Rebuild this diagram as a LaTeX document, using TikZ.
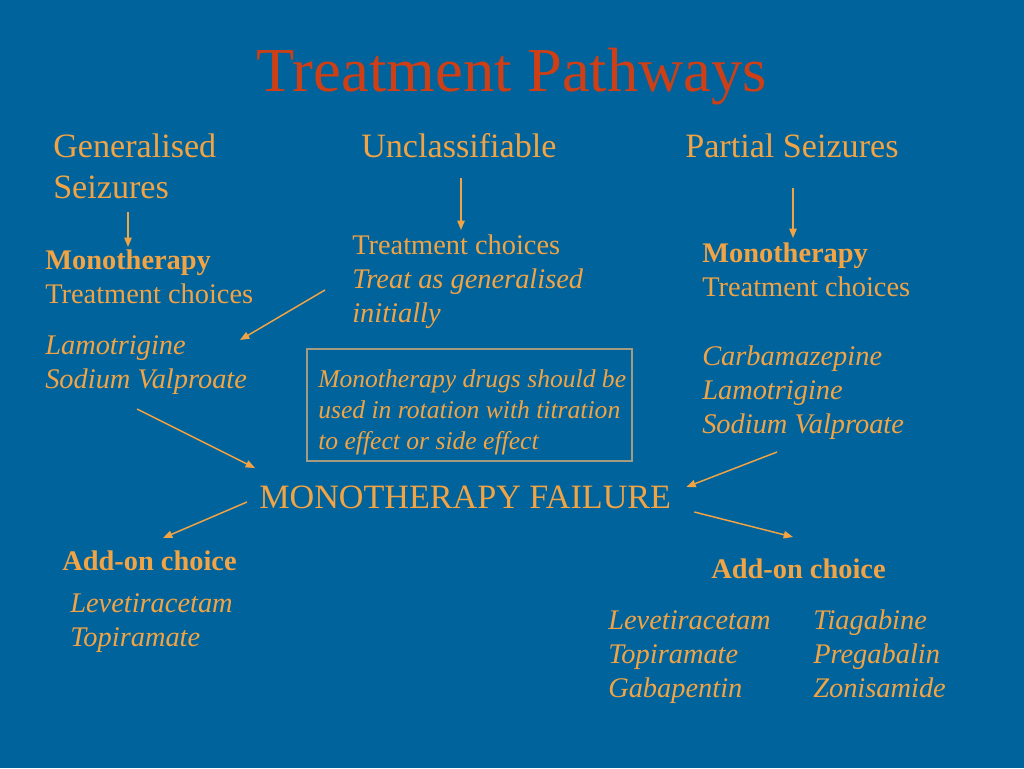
\documentclass[tikz,border=0pt]{standalone}
\usepackage{fontspec}
\setmainfont{Liberation Serif}
\usepackage{xcolor}
\definecolor{slideBlue}{HTML}{00639B}
\definecolor{textOrange}{HTML}{F2A445}
\definecolor{titleRed}{HTML}{CF3F16}
\definecolor{frameGrey}{HTML}{A39B82}
\usepackage{tikz}
\usetikzlibrary{positioning,calc,arrows.meta}
\tikzset{%
  titleText/.style={%
    anchor=base,
    inner sep=0pt,
    text=titleRed,
    font=\fontsize{46.9pt}{52pt}\selectfont
  },
  headText/.style={%
    anchor=base west,
    inner sep=0pt,
    align=left,
    text=textOrange,
    font=\fontsize{25.6pt}{30.75pt}\selectfont
  },
  bodyText/.style={%
    anchor=base west,
    inner sep=0pt,
    align=left,
    text=textOrange,
    font=\fontsize{21.3pt}{25.5pt}\selectfont
  },
  drugText/.style={%
    bodyText,
    font=\fontsize{21.3pt}{25.5pt}\selectfont\itshape
  },
  noteText/.style={%
    anchor=base west,
    inner sep=0pt,
    align=left,
    text=textOrange,
    font=\fontsize{19.2pt}{22.9pt}\selectfont\itshape
  },
  failText/.style={%
    anchor=base west,
    inner sep=0pt,
    text=textOrange,
    font=\fontsize{25.6pt}{30pt}\selectfont
  },
  noteFrame/.style={%
    draw=frameGrey,
    line width=0.8pt
  },
  arrowLine/.style={%
    -{Triangle[length=7pt,width=5.5pt]},
    line width=1.1pt,
    color=textOrange
  }
}

\begin{document}
\begin{tikzpicture}[x=0.75pt,y=-0.75pt]
  \fill[slideBlue] (0,0) rectangle (1024,768);
  \useasboundingbox (0,0) rectangle (1024,768);

  \node[titleText] (title) at (512,91) {Treatment Pathways};

  % seizure types (nodes sit on the baseline of their last line)
  \node[headText] (genHead) at (53,198) {Generalised\\Seizures};
  \node[headText] (uncHead) at (361,157) {Unclassifiable};
  \node[headText] (partHead) at (685,157) {Partial Seizures};

  % first line choices
  \node[bodyText] (genMono) at (45,303) {\textbf{Monotherapy}\\Treatment choices};
  \node[drugText] (genDrugs) at (45,388) {Lamotrigine\\Sodium Valproate};
  \node[bodyText] (uncChoice) at (352,322) {Treatment choices\\\textit{Treat as generalised}\\\textit{initially}};
  \node[bodyText] (partMono) at (702,296) {\textbf{Monotherapy}\\Treatment choices};
  \node[drugText] (partDrugs) at (702,433) {Carbamazepine\\Lamotrigine\\Sodium Valproate};

  \node[noteText] (note) at (318,449) {Monotherapy drugs should be\\used in rotation with titration\\to effect or side effect};
  \draw[noteFrame] ([shift={(-11,-100)}]note.base west) rectangle ([shift={(314,12)}]note.base west);

  \node[failText] (fail) at (259,508) {MONOTHERAPY FAILURE};

  % add-on choices
  \node[bodyText] (addLeft) at (62,570) {\textbf{Add-on choice}};
  \node[drugText] (addLeftDrugs) at (70,646) {Levetiracetam\\Topiramate};
  \node[bodyText] (addRight) at (711,578) {\textbf{Add-on choice}};
  \node[drugText] (addRightA) at (608,697) {Levetiracetam\\Topiramate\\Gabapentin};
  \node[drugText] (addRightB) at (813,697) {Tiagabine\\Pregabalin\\Zonisamide};

  \draw[arrowLine] ([shift={(75,14)}]genHead.base west) -- ([shift={(83,-56)}]genMono.base west);
  \draw[arrowLine] ([shift={(100,21)}]uncHead.base west) -- ([shift={(109,-92)}]uncChoice.base west);
  \draw[arrowLine] ([shift={(108,31)}]partHead.base west) -- ([shift={(91,-58)}]partMono.base west);
  \draw[arrowLine] ([shift={(-27,-32)}]uncChoice.base west) -- ([shift={(195,-48)}]genDrugs.base west);
  \draw[arrowLine] ([shift={(92,21)}]genDrugs.base west) -- ([shift={(-4,-40)}]fail.base west);
  \draw[arrowLine] ([shift={(75,19)}]partDrugs.base west) -- ([shift={(15,-21)}]fail.base east);
  \draw[arrowLine] ([shift={(-12,-6)}]fail.base west) -- ([shift={(101,-32)}]addLeft.base west);
  \draw[arrowLine] ([shift={(23,4)}]fail.base east) -- ([shift={(82,-41)}]addRight.base west);
\end{tikzpicture}
\end{document}
